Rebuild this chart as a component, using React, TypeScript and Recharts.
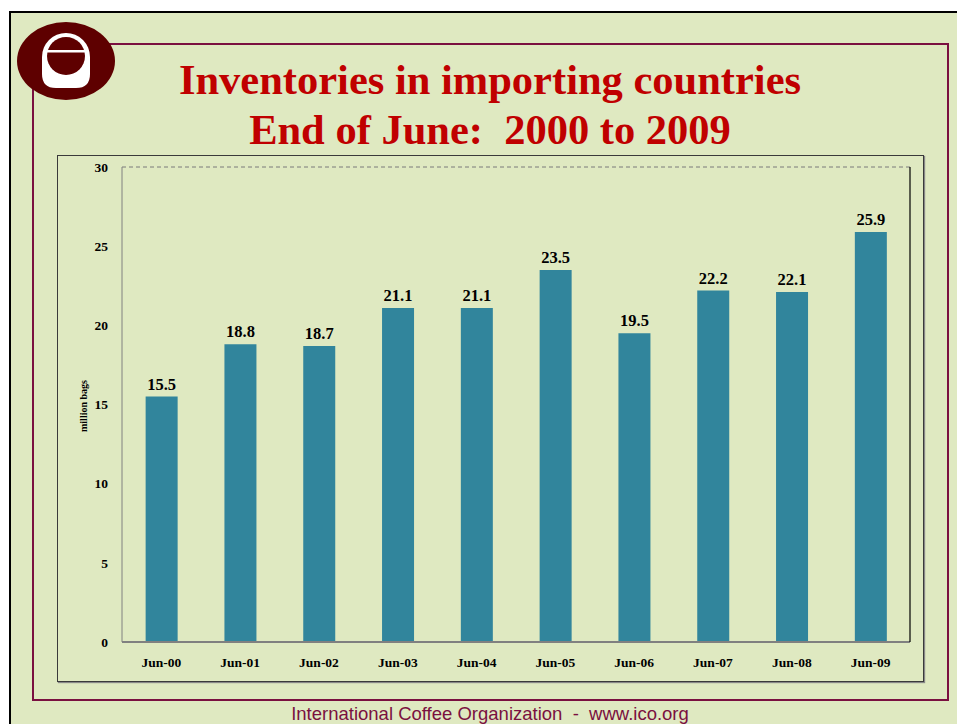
import React from "react";
import {
  BarChart,
  Bar,
  XAxis,
  YAxis,
  CartesianGrid,
  LabelList,
} from "recharts";

// Inventories at end of June, million bags
const periods = ["Jun-00", "Jun-01", "Jun-02", "Jun-03", "Jun-04", "Jun-05", "Jun-06", "Jun-07", "Jun-08", "Jun-09"];
const inventories = [15.5, 18.8, 18.7, 21.1, 21.1, 23.5, 19.5, 22.2, 22.1, 25.9];
const yTicks = [0, 5, 10, 15, 20, 25, 30];

const data = periods.map((p, i) => ({ period: p, value: inventories[i] }));

const BG = "#DFE9C1";
const MAROON = "#7A1040";
const SERIF = "'Liberation Serif', 'Times New Roman', serif";

// ICO logo, drawn in page coordinates
function Logo() {
  return (
    <svg width={130} height={110} style={{ position: "absolute", left: 0, top: 0 }}>
      <ellipse cx={66} cy={61} rx={49} ry={39} fill="#5E0000" />
      <path d="M42 57 A24 24 0 0 1 90 57 L90 74 Q90 88 76 88 L56 88 Q42 88 42 74 Z" fill="#fff" />
      <circle cx={66} cy={56} r={19} fill="#5E0000" />
      <rect x={46} y={50} width={40} height={2.5} fill="#fff" />
    </svg>
  );
}

export default function App() {
  return (
    <div
      style={{
        position: "absolute",
        left: 0,
        top: 0,
        width: 957,
        height: 724,
        background: "#fff",
        overflow: "hidden",
      }}
    >
      {/* slide */}
      <div
        style={{
          position: "absolute",
          left: 9,
          top: 11,
          width: 960,
          height: 730,
          background: BG,
          borderLeft: "2px solid #000",
          borderTop: "2px solid #000",
        }}
      />
      {/* maroon frame */}
      <div
        style={{
          position: "absolute",
          left: 32,
          top: 43,
          width: 913,
          height: 654,
          border: `2px solid ${MAROON}`,
        }}
      />
      <Logo />
      <div
        style={{
          position: "absolute",
          left: 90,
          width: 800,
          top: 55,
          textAlign: "center",
          fontFamily: SERIF,
          fontWeight: "bold",
          fontSize: 42.5,
          lineHeight: "50px",
          color: "#C00000",
          whiteSpace: "nowrap",
        }}
      >
        Inventories in importing countries
        <br />
        End of June:&nbsp; 2000 to 2009
      </div>

      {/* chart area */}
      <div
        style={{
          position: "absolute",
          left: 57,
          top: 155,
          width: 867,
          height: 527,
          border: "1px solid #3a3a3a",
          boxShadow: "1px 1px 1px #888",
          boxSizing: "border-box",
        }}
      >
        <div
          style={{
            position: "absolute",
            left: 25,
            top: 250,
            transform: "translate(-50%, -50%) rotate(-90deg)",
            fontFamily: SERIF,
            fontWeight: "bold",
            fontSize: 10,
            whiteSpace: "nowrap",
          }}
        >
          million bags
        </div>
        <BarChart
          width={865}
          height={525}
          data={data}
          margin={{ top: 11, right: 12, left: 0, bottom: 0 }}
          barCategoryGap="30%"
        >
          <CartesianGrid vertical={false} stroke="#7a7a7a" strokeDasharray="4 3" />
          <XAxis
            dataKey="period"
            height={39}
            tickSize={0}
            tickMargin={15}
            axisLine={{ stroke: "#808080", strokeWidth: 2 }}
            tick={{ fontFamily: SERIF, fontWeight: "bold", fontSize: 13.5, fill: "#000" }}
          />
          <YAxis
            yAxisId="left"
            width={64}
            domain={[0, 30]}
            ticks={yTicks}
            tickSize={0}
            tickMargin={14}
            axisLine={{ stroke: "#808080" }}
            tick={{ fontFamily: SERIF, fontWeight: "bold", fontSize: 13.5, fill: "#000" }}
          />
          <YAxis
            yAxisId="right"
            orientation="right"
            width={1}
            domain={[0, 30]}
            tick={false}
            tickLine={false}
            axisLine={{ stroke: "#000", strokeWidth: 1.2 }}
          />
          <Bar yAxisId="left" dataKey="value" fill="#31859C" isAnimationActive={false}>
            <LabelList
              dataKey="value"
              position="top"
              offset={7}
              formatter={(v: number) => v.toFixed(1)}
              style={{ fontFamily: SERIF, fontWeight: "bold", fontSize: 16.5, fill: "#000" }}
            />
          </Bar>
        </BarChart>
      </div>

      <div
        style={{
          position: "absolute",
          left: 90,
          width: 800,
          top: 704,
          textAlign: "center",
          fontFamily: "'Liberation Sans', Arial, sans-serif",
          fontSize: 18.5,
          lineHeight: "20px",
          color: MAROON,
          whiteSpace: "pre",
        }}
      >
        International Coffee Organization  -  www.ico.org
      </div>
    </div>
  );
}
